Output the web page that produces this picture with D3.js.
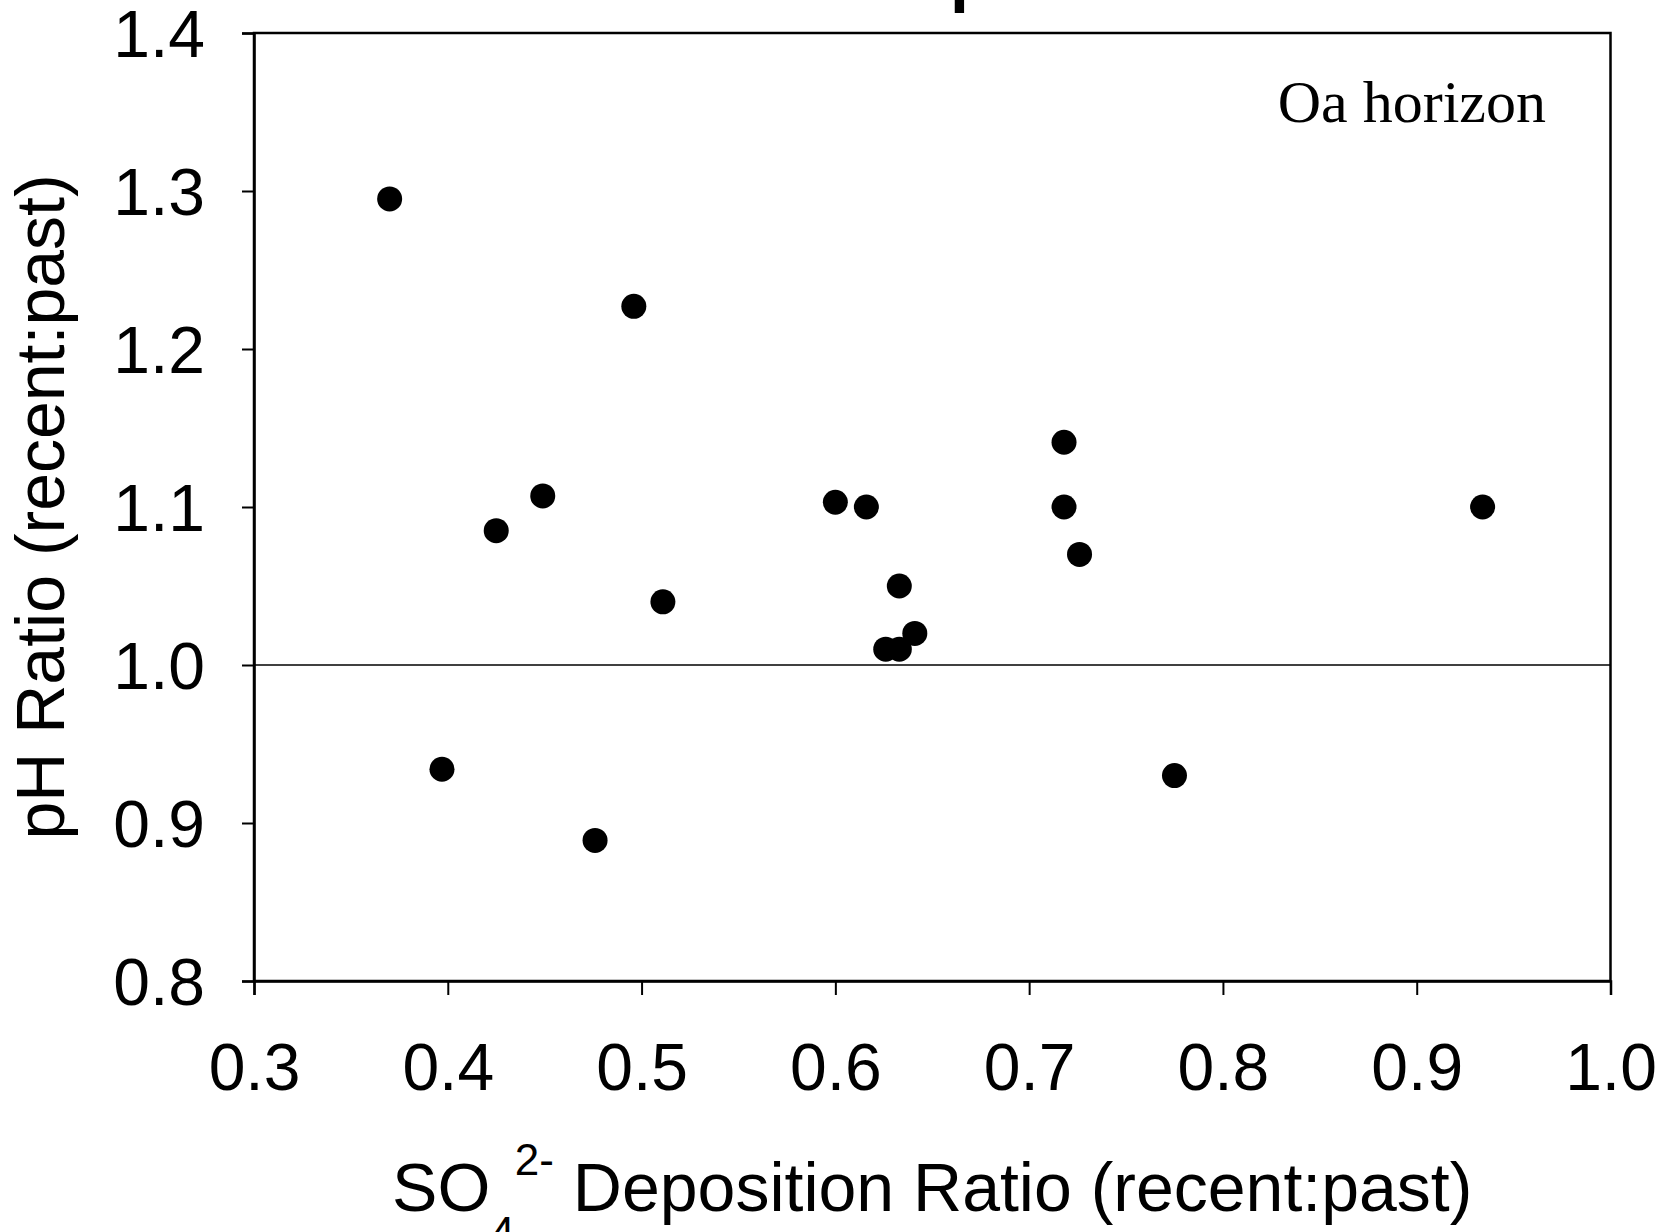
<!DOCTYPE html>
<head>
  <meta charset="utf-8">
  <script src="https://d3js.org/d3.v7.min.js"></script>
  <style>
    body { margin: 0; background: #fff; }
    svg { width: 1677px; height: 1232px; display: block; }
    text { font-family: "Liberation Sans", Arial, sans-serif; fill: #000; }
  </style>
</head>
<body>
  <svg></svg>
  <script>
    // values
    var soRatio = [0.370, 0.496, 0.397, 0.425, 0.449, 0.476, 0.511, 0.600, 0.616,
                   0.633, 0.641, 0.626, 0.633, 0.718, 0.718, 0.726, 0.775, 0.934];
    var phRatio = [1.295, 1.227, 0.934, 1.085, 1.107, 0.889, 1.040, 1.103, 1.100,
                   1.050, 1.020, 1.010, 1.010, 1.141, 1.100, 1.070, 0.930, 1.100];
    var xTicks = [0.3, 0.4, 0.5, 0.6, 0.7, 0.8, 0.9, 1.0];
    var yTicks = [0.8, 0.9, 1.0, 1.1, 1.2, 1.3, 1.4];
    var refLine = 1.0;

    var plotL = 254, plotT = 33, plotR = 1610.5, plotB = 981;
    var svg = d3.select('svg');

    var x = d3.scaleLinear().domain([0.3, 1.0]).range([plotL, plotR]);
    var y = d3.scaleLinear().domain([0.8, 1.4]).range([plotB, plotT]);

    // title fragment cut off at the top of the image
    svg.append('text')
      .attr('x', 950).attr('y', -1)
      .style('font-size', '68px').style('font-weight', 'bold')
      .text('p');

    // frame
    svg.append('rect')
      .attr('x', plotL).attr('y', plotT)
      .attr('width', plotR - plotL).attr('height', plotB - plotT)
      .attr('fill', 'none').attr('stroke', '#000').attr('stroke-width', 2.5);

    var xAxis = svg.append('g')
      .attr('transform', 'translate(0,' + plotB + ')')
      .call(d3.axisBottom(x).tickValues(xTicks).tickSize(14).tickPadding(48)
        .tickFormat(d3.format('.1f')));
    var yAxis = svg.append('g')
      .attr('transform', 'translate(' + plotL + ',0)')
      .call(d3.axisLeft(y).tickValues(yTicks).tickSize(12).tickPadding(37)
        .tickFormat(d3.format('.1f')));

    [xAxis, yAxis].forEach(function(g) {
      g.select('.domain').attr('stroke-width', 2.5);
      g.selectAll('.tick line').attr('stroke-width', 2);
      g.selectAll('.tick text')
        .style('font-size', '66px')
        .style('font-family', '"Liberation Sans", Arial, sans-serif');
    });
    yAxis.selectAll('.tick text').attr('dy', '0.36em');

    // reference line at ratio 1
    svg.append('line')
      .attr('x1', plotL).attr('x2', plotR)
      .attr('y1', y(refLine)).attr('y2', y(refLine))
      .attr('stroke', '#000').attr('stroke-width', 1.6);

    svg.selectAll('circle.pt')
      .data(d3.range(soRatio.length)).enter().append('circle')
      .classed('pt', true)
      .attr('cx', function(i) { return x(soRatio[i]); })
      .attr('cy', function(i) { return y(phRatio[i]); })
      .attr('r', 12.5)
      .attr('fill', '#000');

    svg.append('text')
      .attr('x', 1546).attr('y', 122)
      .attr('text-anchor', 'end')
      .style('font-family', '"Liberation Serif", "Times New Roman", serif')
      .style('font-size', '60px')
      .text('Oa horizon');

    // y axis title
    svg.append('text')
      .attr('transform', 'translate(64,' + ((plotT + plotB) / 2) + ')rotate(-90)')
      .attr('text-anchor', 'middle')
      .style('font-size', '68px')
      .text('pH Ratio (recent:past)');

    // x axis title with sub/superscript
    var xt = svg.append('text')
      .attr('x', (plotL + plotR) / 2).attr('y', 1211)
      .attr('text-anchor', 'middle')
      .style('font-size', '68px');
    xt.append('tspan').text('SO');
    xt.append('tspan').attr('dy', 37).style('font-size', '44px').text('4');
    xt.append('tspan').attr('dy', -73).style('font-size', '44px').text('2-');
    xt.append('tspan').attr('dy', 36).text(' Deposition Ratio (recent:past)');
  </script>
</body>
